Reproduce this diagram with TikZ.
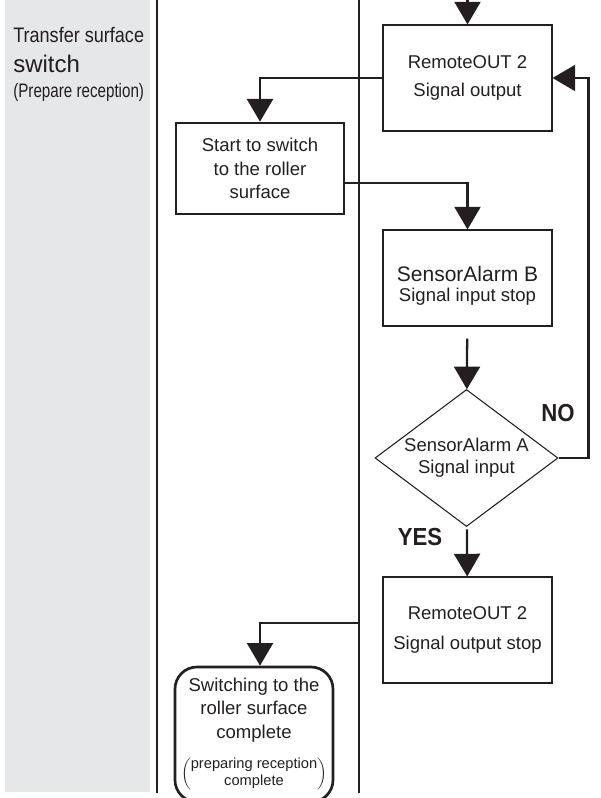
\documentclass[tikz,border=0pt]{standalone}
\usepackage{fontspec}
\setmainfont{Liberation Sans}
\newfontfamily\lanefont[FakeStretch=0.86]{Liberation Sans}
\newfontfamily\notefont[FakeStretch=0.78]{Liberation Sans}
\newfontfamily\flagfont[FakeStretch=0.9]{Liberation Sans Bold}
\usetikzlibrary{arrows.meta, positioning, shapes.geometric, calc}
\definecolor{panelgray}{RGB}{230,231,232}
\definecolor{inkgray}{RGB}{35,31,32}

\begin{document}
\begin{tikzpicture}[
  x=0.75pt, y=-0.75pt,
  procbox/.style={rectangle, draw=inkgray, line width=0.8pt, inner sep=0pt,
                  minimum width=126.75pt, minimum height=79.5pt, align=center,
                  text=inkgray, font=\fontsize{13.9}{21}\selectfont},
  startbox/.style={procbox, line width=2pt, minimum width=126pt,
                   minimum height=68.25pt, font=\fontsize{13.9}{17.6}\selectfont},
  donebox/.style={startbox, rounded corners=16.5pt, minimum width=118.5pt,
                  minimum height=101.25pt},
  decision/.style={diamond, draw=inkgray, line width=0.8pt, inner sep=0pt,
                   aspect=1.336, minimum width=137.25pt, minimum height=102.75pt,
                   align=center, text=inkgray, font=\fontsize{13.9}{16.5}\selectfont},
  flow/.style={-{Triangle[width=19.5pt,length=17pt]}, line width=1.7pt, draw=inkgray},
  lane/.style={line width=1.5pt, draw=inkgray},
  lanetext/.style={anchor=base west, inner sep=0pt, text=inkgray},
  flag/.style={inner sep=0pt, text=inkgray, font=\flagfont\fontsize{18.5}{20}\selectfont},
]

\useasboundingbox (0,0) rectangle (600,798);

% ---- lane ----
\fill[panelgray] (5,0) rectangle (150,792);
\draw[lane] (157,0) -- (157,793);
\draw[lane] (359,0) -- (359,793);

\node[lanetext, font=\lanefont\fontsize{15.75}{18}\selectfont] (lanetitle) at (13,43) {Transfer surface};
\node[lanetext, font=\fontsize{18}{20}\selectfont] (laneword) at (13,73) {switch};
\node[lanetext, font=\notefont\fontsize{14.6}{16}\selectfont] (lanenote) at (13,98) {(Prepare reception)};

% ---- steps ----
\node[procbox] (remon) at (467.5,78) {RemoteOUT 2\\Signal output};

\node[startbox] (switch) at (260,168.5) {Start to switch\\to the roller\\surface};

\node[procbox, minimum height=72pt,
      label={[align=center, text=inkgray, yshift=-6.2pt,
              font=\fontsize{13.9}{15}\selectfont]center:{\fontsize{15.75}{15}\selectfont SensorAlarm B}\\Signal input stop}]
      (sensb) at (467.5,278) {};

\node[decision] (sensa) at (466.5,458) {SensorAlarm A\\Signal input};

\node[procbox, font=\fontsize{13.9}{22.5}\selectfont] (remoff) at (467.5,630) {RemoteOUT 2\\Signal output stop};

\node[donebox] (done) at (254,734.5) {Switching to the\\roller surface\\complete\\[10pt]%
  {\fontsize{11}{12.75}\selectfont$\left(\vcenter{\hbox{\begin{tabular}{@{}c@{}}preparing reception\\complete\end{tabular}}}\right)$}};

\node[flag] (no)  at (558,413) {NO};
\node[flag] (yes) at (420,537) {YES};

\coordinate (feed) at (467.5,0);
\coordinate (tap)  at (359,623);

% ---- connectors ----
\draw[flow] (feed) -- (remon);
\draw[flow] (remon.west) -| (switch.north);
\draw[flow] ([yshift=-10.9pt]switch.east) -| (sensb.north);
\draw[flow, shorten <=9pt] (sensb) -- (sensa);
\draw[flow, shorten <=2pt] (sensa) -- (remoff);
\draw[flow] (sensa.east) -- ++(30,0) |- (remon.east);
\draw[flow] (tap) -| ([xshift=4.5pt]done.north);

\end{tikzpicture}
\end{document}
